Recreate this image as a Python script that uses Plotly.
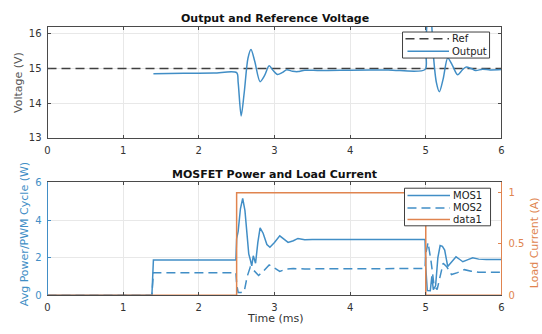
import plotly.graph_objects as go

# ---------------- data ----------------
ref_t = [0, 6]
ref_v = [15, 15]

out_t = [1.4, 1.8, 2.2, 2.5, 2.52, 2.56, 2.6, 2.65, 2.69, 2.74, 2.81, 2.87, 2.93, 2.98,
         3.04, 3.1, 3.16, 3.24, 3.31, 3.4, 3.6, 4.0, 4.5, 4.99, 5.0, 5.02, 5.04, 5.07,
         5.1, 5.14, 5.18, 5.23, 5.29, 5.35, 5.42, 5.48, 5.53, 5.6, 5.66, 5.75, 5.85, 6.0]
out_v = [14.85, 14.86, 14.87, 14.88, 14.6, 13.63, 14.3, 15.3, 15.55, 15.2, 14.62, 14.8,
         15.08, 14.95, 14.83, 14.88, 14.96, 14.92, 14.91, 14.95, 14.94, 14.95, 14.96,
         14.97, 15.5, 16.5, 16.8, 16.5, 15.4, 14.6, 14.33, 14.7, 15.3, 15.1, 14.82, 14.95,
         15.04, 15.0, 14.94, 14.98, 14.96, 14.97]

mos1_t = [0, 1.38, 1.4, 2.49, 2.5, 2.52, 2.55, 2.58, 2.61, 2.64, 2.66, 2.68, 2.70, 2.72,
          2.75, 2.78, 2.81, 2.85, 2.9, 2.94, 3.0, 3.07, 3.12, 3.18, 3.25, 3.31, 3.4, 3.5,
          4.0, 4.99, 5.0, 5.02, 5.06, 5.08, 5.1, 5.13, 5.16, 5.19, 5.22, 5.25, 5.29, 5.34,
          5.4, 5.45, 5.49, 5.55, 5.62, 5.7, 5.8, 6.0]
mos1_w = [0, 0, 1.87, 1.87, 3.0, 3.4, 4.6, 5.15, 4.5, 3.0, 2.2, 1.9, 1.56, 2.1, 1.7, 2.8,
          3.58, 3.3, 2.7, 2.55, 2.8, 3.16, 3.0, 2.81, 2.9, 3.02, 2.95, 2.97, 2.96, 2.96,
          1.5, 0.25, 0.24, 1.0, 0.3, 0.5, 2.0, 2.64, 2.6, 2.4, 1.53, 1.75, 2.04, 1.9, 1.78,
          1.88, 1.99, 1.92, 1.9, 1.9]

mos2_t = [0, 1.38, 1.4, 2.49, 2.5, 2.52, 2.56, 2.6, 2.64, 2.68, 2.72, 2.79, 2.86, 2.93,
          3.0, 3.07, 3.15, 3.25, 3.4, 4.0, 4.99, 5.0, 5.03, 5.07, 5.11, 5.15, 5.19, 5.23,
          5.28, 5.34, 5.42, 5.51, 5.6, 5.7, 6.0]
mos2_w = [0, 0, 1.2, 1.2, 0.6, 0.15, 0.15, 0.2, 1.0, 1.5, 1.35, 1.05, 1.3, 1.61, 1.45,
          1.27, 1.38, 1.42, 1.4, 1.42, 1.42, 2.2, 2.8, 1.8, 0.5, 0.3, 1.0, 1.7, 1.5, 1.1,
          1.2, 1.36, 1.28, 1.22, 1.22]

load_t = [0, 2.5, 2.5, 5, 5, 6]
load_a = [0, 0, 1, 1, 0, 0]

x_ticks = [0, 1, 2, 3, 4, 5, 6]
v_ticks = [13, 14, 15, 16]
w_ticks = [0, 2, 4, 6]
a_ticks = [0, 0.5, 1]
a_labels = ["0", "0.5", "1"]

top_legend = ["Ref", "Output"]
bottom_legend = ["MOS1", "MOS2", "data1"]

# ---------------- style ----------------
BLUE = "#418ec6"
ORANGE = "#e0844f"
DARK = "#404040"
AXIS = "#4a4a4a"
GRID = "#e8e8e8"
FONT = "DejaVu Sans, Liberation Sans, Arial, sans-serif"
W, H = 542, 334
DASH = "9px,5px"
LW = 1.5


def px_x(p):
    return p / W


def px_y(p):
    return 1 - p / H


fig = go.Figure()

fig.add_trace(go.Scatter(x=ref_t, y=ref_v, mode="lines", name=top_legend[0],
                         line=dict(color=DARK, width=1.6, dash=DASH),
                         xaxis="x", yaxis="y"))
fig.add_trace(go.Scatter(x=out_t, y=out_v, mode="lines", name=top_legend[1],
                         line=dict(color=BLUE, width=LW, shape="spline", smoothing=0.8),
                         xaxis="x", yaxis="y"))

fig.add_trace(go.Scatter(x=mos1_t, y=mos1_w, mode="lines", name=bottom_legend[0],
                         line=dict(color=BLUE, width=LW),
                         xaxis="x2", yaxis="y2"))
fig.add_trace(go.Scatter(x=mos2_t, y=mos2_w, mode="lines", name=bottom_legend[1],
                         line=dict(color=BLUE, width=LW, dash=DASH),
                         xaxis="x2", yaxis="y2"))
fig.add_trace(go.Scatter(x=load_t, y=load_a, mode="lines", name=bottom_legend[2],
                         line=dict(color=ORANGE, width=LW),
                         xaxis="x2", yaxis="y3"))

xdom = [px_x(45), px_x(504)]
TICKFONT = dict(size=10, color="#333333", family=FONT)
common_x = dict(range=[0, 6], tickvals=x_ticks, showgrid=True, gridcolor=GRID,
                showline=True, linecolor=AXIS, linewidth=1, mirror="ticks",
                ticks="inside", ticklen=3, tickcolor=AXIS, zeroline=False,
                tickfont=TICKFONT, ticklabelstandoff=3)

shapes = []
annotations = []


def legend_box(x0, x1, y0, y1, entries):
    shapes.append(dict(type="rect", xref="paper", yref="paper",
                       x0=px_x(x0), x1=px_x(x1), y0=px_y(y1), y1=px_y(y0),
                       line=dict(color=DARK, width=1), fillcolor="white", layer="above"))
    for name, yy, color, dash, lx0, lx1, tx in entries:
        shapes.append(dict(type="line", xref="paper", yref="paper",
                           x0=px_x(lx0), x1=px_x(lx1), y0=px_y(yy), y1=px_y(yy),
                           line=dict(color=color, width=LW, dash=dash), layer="above"))
        annotations.append(dict(text=name, x=px_x(tx), y=px_y(yy), xref="paper",
                                yref="paper", showarrow=False, xanchor="left",
                                yanchor="middle",
                                font=dict(size=10, color="#222222", family=FONT)))


legend_box(404, 492, 27, 54, [
    (top_legend[0], 34, DARK, DASH, 407, 451, 452),
    (top_legend[1], 47, BLUE, "solid", 409, 451, 452),
])
legend_box(406, 493, 189, 228, [
    (bottom_legend[0], 196.5, BLUE, "solid", 409, 452, 453),
    (bottom_legend[1], 209.5, BLUE, DASH, 409, 452, 453),
    (bottom_legend[2], 221.5, ORANGE, "solid", 409, 452, 453),
])


def text(t, x, y, size=11, color="#333333", angle=0):
    annotations.append(dict(text=t, x=px_x(x), y=px_y(y), xref="paper", yref="paper",
                            showarrow=False, xanchor="center", yanchor="middle",
                            textangle=angle,
                            font=dict(size=size, color=color, family=FONT)))


text("<b>Output and Reference Voltage</b>", 275, 13, size=11, color="#111111")
text("<b>MOSFET Power and Load Current</b>", 275, 175, size=11, color="#111111")
text("Time (ms)", 275, 324, size=11)
text("Voltage (V)", 15, 79, size=11, color="#555555", angle=-90)
text("Avg Power/PWM Cycle (W)", 22, 237, size=11, color=BLUE, angle=-90)
text("Load Current (A)", 537, 246, size=11, color=ORANGE, angle=-90)

fig.update_layout(
    width=W, height=H,
    margin=dict(l=0, r=0, t=0, b=0),
    paper_bgcolor="white", plot_bgcolor="white",
    font=dict(family=FONT, size=10, color="#333333"),
    showlegend=False,
    xaxis=dict(domain=xdom, anchor="y", **common_x),
    yaxis=dict(domain=[px_y(136.7), px_y(21.7)], range=[13, 16.2], tickvals=v_ticks,
               showgrid=True, gridcolor=GRID, showline=True, linecolor=AXIS,
               linewidth=1, mirror="ticks", ticks="inside", ticklen=3, tickcolor=AXIS,
               zeroline=False, tickfont=TICKFONT, ticklabelstandoff=3),
    xaxis2=dict(domain=xdom, anchor="y2", **common_x),
    yaxis2=dict(domain=[px_y(300), px_y(183)], range=[0, 6], tickvals=w_ticks,
                showgrid=True, gridcolor=GRID, showline=True, linecolor=BLUE,
                linewidth=1, mirror=False, ticks="inside", ticklen=3, tickcolor=BLUE,
                zeroline=False, tickfont=dict(size=10, color=BLUE, family=FONT),
                ticklabelstandoff=3),
    yaxis3=dict(overlaying="y2", side="right", anchor="x2", range=[0, 1.1],
                tickvals=a_ticks, ticktext=a_labels, showgrid=False,
                showline=True, linecolor=ORANGE, linewidth=1, ticks="inside",
                ticklen=3, tickcolor=ORANGE, zeroline=False,
                tickfont=dict(size=10, color=ORANGE, family=FONT),
                ticklabelstandoff=4),
    shapes=shapes,
    annotations=annotations,
)

fig.write_html("out.html")
